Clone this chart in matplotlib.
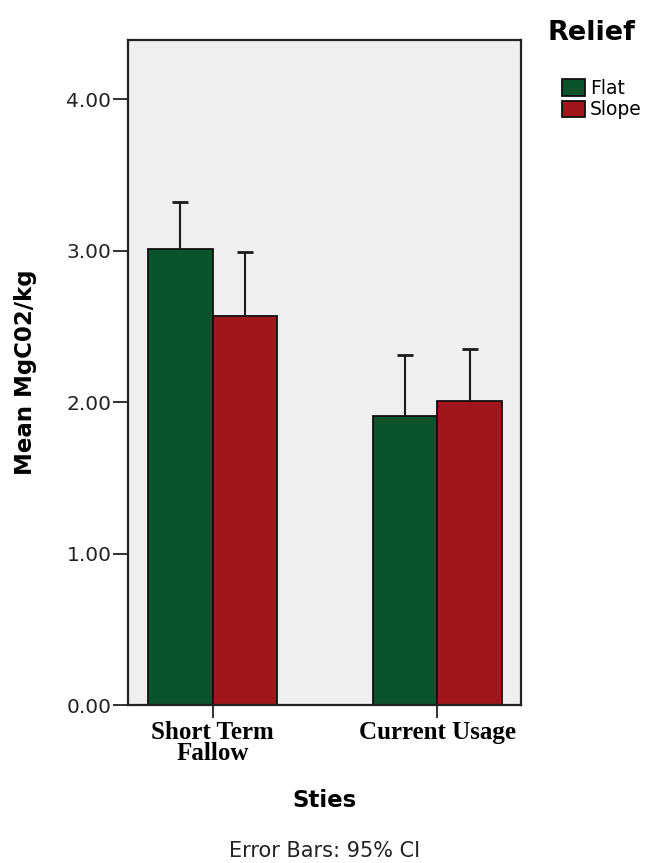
import matplotlib
matplotlib.use("Agg")
import matplotlib.pyplot as plt
import numpy as np

# Mean MgC02/kg by site and relief, with upper 95% CI limits
sites = ["Short Term\nFallow", "Current Usage"]
relief = ["Flat", "Slope"]
flat_mean = [3.01, 1.91]
slope_mean = [2.57, 2.01]
flat_ci_upper = [3.32, 2.31]
slope_ci_upper = [2.99, 2.35]
y_ticks = [0.0, 1.0, 2.0, 3.0, 4.0]

GREEN = "#0B532B"
RED = "#A0161A"
BG = "#EFEFEF"
EDGE = "#111111"

W, H = 655, 863
fig = plt.figure(figsize=(W / 100, H / 100), dpi=100)

# axes box in pixel coordinates
ax_l, ax_r, ax_t, ax_b = 128, 521, 40, 705
ax = fig.add_axes([ax_l / W, 1 - ax_b / H, (ax_r - ax_l) / W, (ax_b - ax_t) / H])
ax.set_facecolor(BG)

x = np.arange(len(sites))
bw = 0.287
cap = 0.036

for means, uppers, color, off, lab in [
    (flat_mean, flat_ci_upper, GREEN, -bw / 2, relief[0]),
    (slope_mean, slope_ci_upper, RED, bw / 2, relief[1]),
]:
    xs = x + off
    ax.bar(xs, means, width=bw, color=color, edgecolor=EDGE, linewidth=1.3,
           label=lab, zorder=2)
    ax.vlines(xs, means, uppers, color="#1a1a1a", linewidth=1.5, zorder=3)
    ax.hlines(uppers, xs - cap, xs + cap, color="#1a1a1a", linewidth=2.0, zorder=3)

ax.set_xlim(-0.376, 1.372)
ax.set_ylim(0, 4.39)
ax.set_yticks(y_ticks)
ax.set_yticklabels([f"{v:.2f}" for v in y_ticks], fontsize=14.5,
                   family="DejaVu Sans", color="#222222")
ax.set_xticks(x)
ax.set_xticklabels(sites, fontsize=18, family="Liberation Serif",
                   fontweight="bold", linespacing=0.9)
ax.tick_params(axis="y", direction="out", length=11, width=1.3, pad=1,
               color="#222222")
ax.tick_params(axis="x", direction="out", length=9.5, width=1.3, pad=2,
               color="#222222")
for s in ax.spines.values():
    s.set_linewidth(1.6)
    s.set_color("#222222")

ax.set_ylabel("Mean MgC02/kg", fontsize=16.5, fontweight="bold",
              family="DejaVu Sans")
ax.yaxis.set_label_coords(-(ax_l - 26) / (ax_r - ax_l), 0.5)
ax.yaxis.label.set_va("center")

fig.text(324 / W, 1 - 800 / H, "Sties", ha="center", va="center",
         fontsize=16.5, fontweight="bold", family="DejaVu Sans")
fig.text(325 / W, 1 - 851 / H, "Error Bars: 95% CI", ha="center",
         va="center", fontsize=15, family="DejaVu Sans", color="#222222")

fig.text(547 / W, 1 - 40 / H, "Relief", ha="left", va="baseline",
         fontsize=19.5, fontweight="bold", family="DejaVu Sans")

handles, labels = ax.get_legend_handles_labels()
leg = fig.legend(handles, labels, loc="upper left",
                 bbox_to_anchor=(562 / W, 1 - 79 / H), frameon=False,
                 prop={"family": "DejaVu Sans", "size": 13.5},
                 handlelength=1.2, handleheight=0.95, handletextpad=0.3,
                 labelspacing=0.12, borderpad=0, borderaxespad=0)

fig.savefig("out.png", dpi=100)
